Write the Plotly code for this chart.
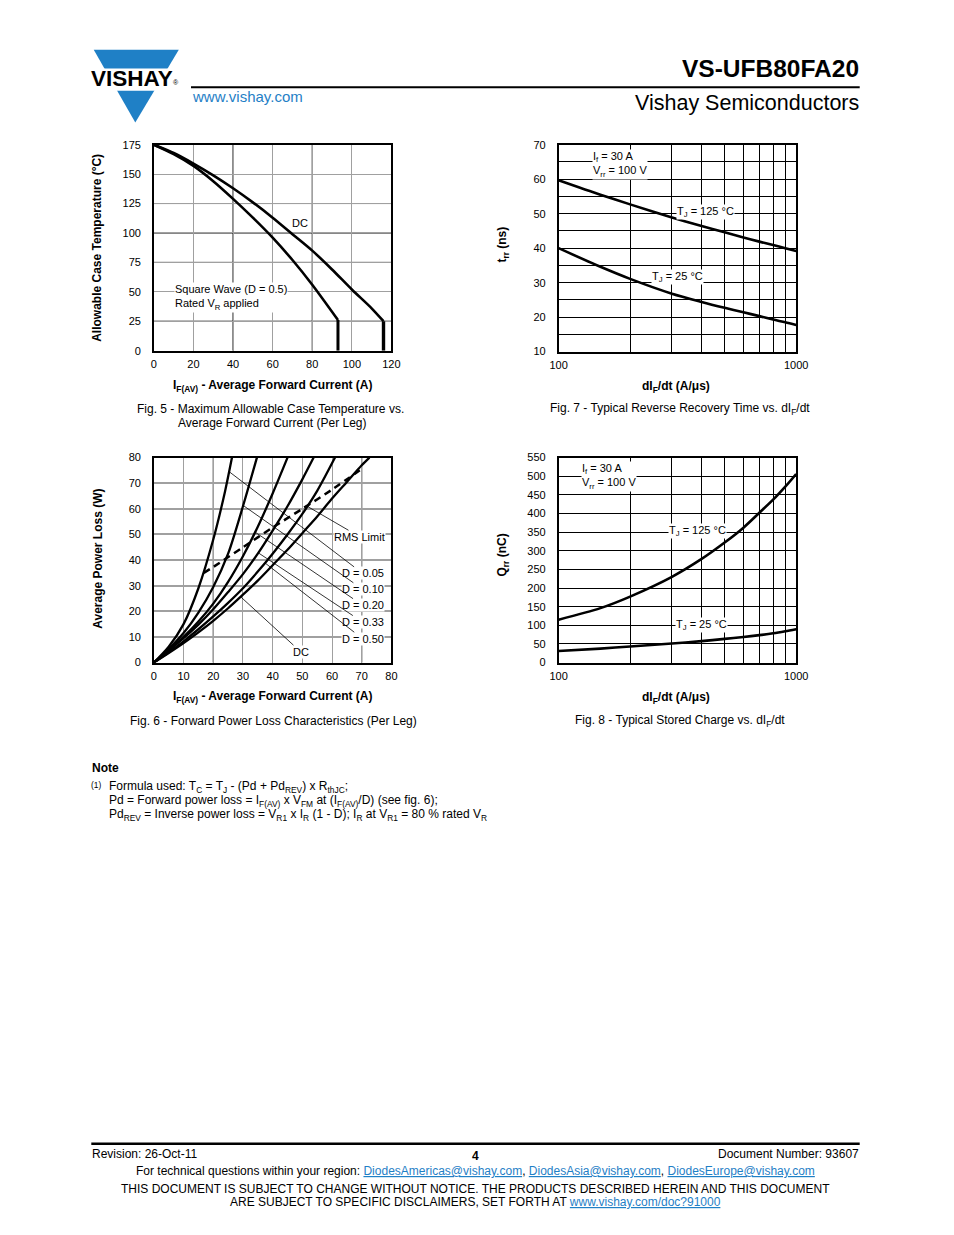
import math
import plotly.graph_objects as go

# The page keeps the browser's 8 px body margin, so the figure is 16 px
# smaller than the 954x1235 window and reference pixels are shifted by 8.
PAGE_W, PAGE_H = 954, 1235
OFF = 8
W, H = PAGE_W - 2 * OFF, PAGE_H - 2 * OFF
FONT = "Liberation Sans, Arial, Helvetica, sans-serif"
BLUE = "#1f80c6"
GREY = "#a0a0a0"

# ---------------- Fig. 5 data ----------------
F5_XTICKS = [0, 20, 40, 60, 80, 100, 120]
F5_YTICKS = [0, 25, 50, 75, 100, 125, 150, 175]
F5_BLACK_X = [40, 80]
F5_BLACK_Y = [25, 75, 100, 125]
F5_DC_X = [0, 10, 20, 30, 40, 50, 60, 70, 80, 90, 100, 110, 116]
F5_DC_Y = [175, 168, 159, 149, 138, 126, 113, 99, 85, 69, 52, 36, 25]
F5_DC_DROP_X = [116, 116]
F5_DC_DROP_Y = [25, 0]
F5_SQ_X = [0, 10, 20, 30, 40, 50, 60, 70, 80, 93]
F5_SQ_Y = [175, 167, 157, 144, 129, 113, 96, 77, 56, 26]
F5_SQ_DROP_X = [93, 93]
F5_SQ_DROP_Y = [26, 0]

# ---------------- Fig. 6 data ----------------
F6_TICKS = [0, 10, 20, 30, 40, 50, 60, 70, 80]
F6_BLACK_X = [20, 70]
F6_D005_X = [0, 5, 10, 15, 20, 24, 26.3]
F6_D005_Y = [0, 6.2, 15, 29, 48, 67, 80]
F6_D010_X = [0, 5, 10, 15, 20, 25, 30, 34.7]
F6_D010_Y = [0, 5.3, 11.5, 19.5, 29.5, 42.5, 61, 80]
F6_D020_X = [0, 5, 10, 15, 20, 25, 30, 35, 40, 45]
F6_D020_Y = [0, 4.8, 10, 16, 23, 31.5, 41.5, 53, 66, 80]
F6_D033_X = [0, 5, 10, 15, 20, 25, 30, 35, 40, 45, 50, 53.8]
F6_D033_Y = [0, 4.6, 9.5, 14.8, 20.8, 27.5, 34.5, 42.5, 51.5, 61, 71.5, 80]
F6_D050_X = [0, 5, 10, 15, 20, 25, 30, 35, 40, 45, 50, 55, 61]
F6_D050_Y = [0, 4, 8.3, 13, 18, 23.3, 29, 35.5, 42.5, 50, 58, 67, 80]
F6_DC_X = [0, 5, 10, 15, 20, 25, 30, 35, 40, 45, 50, 55, 60, 65, 70, 72.6]
F6_DC_Y = [0, 3.7, 7.6, 11.8, 16.3, 21.2, 26.5, 32, 38, 44, 50.5, 57, 64, 70.5, 77, 80]
F6_RMS_X = [16.8, 20, 30, 40, 50, 60, 70.5]
F6_RMS_Y = [35, 37.3, 45, 52.7, 60, 67.5, 76]

# ---------------- Fig. 7 data ----------------
F7_XTICKS = [100, 1000]
F7_XMINOR = [200, 300, 400, 500, 600, 700, 800, 900]
F7_YTICKS = [10, 20, 30, 40, 50, 60, 70]
F7_YMINOR = [15, 25, 35, 45, 55, 65]
F7_X = [100, 150, 200, 300, 400, 500, 600, 700, 800, 900, 1000]
F7_T125 = [59.7, 55.5, 52.7, 48.9, 46.4, 44.6, 43.1, 41.9, 40.9, 40.0, 39.2]
F7_T25 = [40, 34.6, 31.1, 26.8, 24.4, 22.7, 21.4, 20.3, 19.3, 18.5, 17.7]

# ---------------- Fig. 8 data ----------------
F8_XTICKS = [100, 1000]
F8_XMINOR = [200, 300, 400, 500, 600, 700, 800, 900]
F8_YTICKS = [0, 50, 100, 150, 200, 250, 300, 350, 400, 450, 500, 550]
F8_X = [100, 150, 200, 300, 400, 500, 600, 700, 800, 900, 1000]
F8_T125 = [115, 146, 177, 230, 278, 322, 362, 402, 437, 472, 506]
F8_T25 = [31, 37.5, 43, 51, 57.5, 63.5, 68.5, 73.5, 78.5, 84, 89.5]


def PX(x):
    return (x - OFF) / W


def PY(y):
    return 1 - (y - OFF) / H


fig = go.Figure()


def line(x, y, xa, ya, width=2.6, dash="solid", shape="spline"):
    fig.add_trace(go.Scatter(
        x=x, y=y, xaxis=xa, yaxis=ya, mode="lines",
        line=dict(color="black", width=width, dash=dash, shape=shape,
                  smoothing=0.8 if shape == "spline" else None),
        hoverinfo="skip", showlegend=False))


# Fig 5
line(F5_DC_X, F5_DC_Y, "x", "y")
line(F5_DC_DROP_X, F5_DC_DROP_Y, "x", "y", width=3.4, shape="linear")
line(F5_SQ_X, F5_SQ_Y, "x", "y")
line(F5_SQ_DROP_X, F5_SQ_DROP_Y, "x", "y", width=3.0, shape="linear")
# Fig 7
line(F7_X, F7_T125, "x2", "y2")
line(F7_X, F7_T25, "x2", "y2")
# Fig 6
for xs, ys in [(F6_D005_X, F6_D005_Y), (F6_D010_X, F6_D010_Y), (F6_D020_X, F6_D020_Y),
               (F6_D033_X, F6_D033_Y), (F6_D050_X, F6_D050_Y), (F6_DC_X, F6_DC_Y)]:
    line(xs, ys, "x3", "y3", width=2.3)
line(F6_RMS_X, F6_RMS_Y, "x3", "y3", width=2.5, dash="7px,5px")
# Fig 8
line(F8_X, F8_T125, "x4", "y4")
line(F8_X, F8_T25, "x4", "y4")


def axis(domain, rng, tickvals, gridcolor="black", gridwidth=1, anchor=None,
         typ="linear", standoff=2, minor=None):
    d = dict(domain=domain, range=rng, type=typ, tickmode="array", tickvals=tickvals,
             ticktext=[str(v) for v in tickvals], showline=True, mirror=True,
             linecolor="black", linewidth=1.5, zeroline=False, ticks="", showgrid=True,
             gridcolor=gridcolor, gridwidth=gridwidth, fixedrange=True,
             tickfont=dict(family=FONT, size=11, color="black"),
             ticklabelstandoff=standoff)
    if minor is not None:
        d["minor"] = dict(tickmode="array", tickvals=minor, showgrid=True,
                          gridcolor="black", gridwidth=1, ticks="")
    if anchor:
        d["anchor"] = anchor
    return d


L_DOM = [PX(148), PX(391)]
R_DOM = [PX(562), PX(805)]
TOP_DOM5 = [PY(348), PY(140)]
TOP_DOM7 = [PY(349), PY(140)]
BOT_DOM = [PY(663), PY(456)]

fig.update_layout(
    width=W, height=H, autosize=False,
    margin=dict(l=0, r=0, t=0, b=0, pad=0),
    paper_bgcolor="white", plot_bgcolor="white", showlegend=False,
    font=dict(family=FONT, size=12, color="black"),
    xaxis=axis(L_DOM, [0, 120], F5_XTICKS, GREY, 1.3, "y"),
    yaxis=axis(TOP_DOM5, [0, 175], F5_YTICKS, GREY, 1.3, "x", standoff=9),
    xaxis2=axis(R_DOM, [2, 3], F7_XTICKS, "black", 1, "y2", typ="log", minor=F7_XMINOR),
    yaxis2=axis(TOP_DOM7, [10, 70], F7_YTICKS, "black", 1, "x2", standoff=9, minor=F7_YMINOR),
    xaxis3=axis(L_DOM, [0, 80], F6_TICKS, GREY, 1.3, "y3"),
    yaxis3=axis(BOT_DOM, [0, 80], F6_TICKS, GREY, 2, "x3", standoff=9),
    xaxis4=axis(R_DOM, [2, 3], F8_XTICKS, "black", 1, "y4", typ="log", minor=F8_XMINOR),
    yaxis4=axis(BOT_DOM, [0, 550], F8_YTICKS, "black", 1, "x4", standoff=9),
)

shapes = []
for v in F5_BLACK_X:
    shapes.append(dict(type="line", xref="x", yref="y domain", x0=v, x1=v, y0=0, y1=1,
                       line=dict(color="black", width=1), layer="below"))
for v in F5_BLACK_Y:
    shapes.append(dict(type="line", xref="x domain", yref="y", x0=0, x1=1, y0=v, y1=v,
                       line=dict(color="black", width=1), layer="below"))
for v in F6_BLACK_X:
    shapes.append(dict(type="line", xref="x3", yref="y3 domain", x0=v, x1=v, y0=0, y1=1,
                       line=dict(color="black", width=1), layer="below"))

# header / footer rules
shapes.append(dict(type="line", xref="paper", yref="paper", x0=PX(186), x1=PX(870),
                   y0=PY(82), y1=PY(82), line=dict(color="black", width=2)))
shapes.append(dict(type="line", xref="paper", yref="paper", x0=PX(84), x1=PX(870),
                   y0=PY(1149), y1=PY(1149), line=dict(color="black", width=2.5)))
# logo triangle + white band
shapes.append(dict(type="path", xref="paper", yref="paper",
                   path=f"M {PX(86.5)},{PY(44)} L {PX(173.5)},{PY(44)} L {PX(129)},{PY(117.5)} Z",
                   fillcolor=BLUE, line=dict(width=0)))
shapes.append(dict(type="rect", xref="paper", yref="paper", x0=PX(80), x1=PX(180),
                   y0=PY(85.5), y1=PY(63), fillcolor="white", line=dict(width=0)))
fig.update_layout(shapes=shapes)

anns = []


def ann(text, x, y, size=12, bold=False, xanchor="center", yanchor="middle", color="black",
        angle=0, bg=None, xref="paper", yref="paper", align="center"):
    if bold:
        text = f"<b>{text}</b>"
    if xref == "paper":
        x = PX(x)
    if yref == "paper":
        y = PY(y)
    d = dict(text=text, x=x, y=y, xref=xref, yref=yref, showarrow=False, xanchor=xanchor,
             yanchor=yanchor, textangle=angle, align=align, borderpad=0,
             font=dict(family=FONT, size=size, color=color))
    if bg:
        d["bgcolor"] = bg
    anns.append(d)


# header
ann("VISHAY", 126, 73.5, size=22.5, bold=True)
ann("®", 170.5, 77, size=7)
ann("www.vishay.com", 186, 91, size=15, color=BLUE, xanchor="left")
ann("VS-UFB80FA20", 870, 63, size=24.5, bold=True, xanchor="right")
ann("Vishay Semiconductors", 870, 98, size=21.5, xanchor="right")

# axis titles & captions
XT = "I<sub>F(AV)</sub> - Average Forward Current (A)"
DT = "dI<sub>F</sub>/dt (A/μs)"
ann("Allowable Case Temperature (°C)", 90, 244, size=12, bold=True, angle=-90)
ann(XT, 269.5, 384, size=12, bold=True)
ann("Fig. 5 - Maximum Allowable Case Temperature vs.", 130, 407, size=12, xanchor="left")
ann("Average Forward Current (Per Leg)", 172, 421, size=12, xanchor="left")

ann("t<sub>rr</sub> (ns)", 505, 241, size=12, bold=True, angle=-90)
ann(DT, 682, 385, size=12, bold=True)
ann("Fig. 7 - Typical Reverse Recovery Time vs. dI<sub>F</sub>/dt", 686, 407, size=12)

ann("Average Power Loss (W)", 90, 558, size=12, bold=True, angle=-90)
ann(XT, 269.5, 698, size=12, bold=True)
ann("Fig. 6 - Forward Power Loss Characteristics (Per Leg)", 270.5, 722, size=12)

ann("Q<sub>rr</sub> (nC)", 505, 554, size=12, bold=True, angle=-90)
ann(DT, 682, 699, size=12, bold=True)
ann("Fig. 8 - Typical Stored Charge vs. dI<sub>F</sub>/dt", 686, 722, size=12)

# in-plot labels, Fig 5
ann("DC", 73.6, 108.5, size=11, xref="x", yref="y", bg="white")
ann("Square Wave (D = 0.5)<br>Rated V<sub>R</sub> applied", 10.4, 45, size=11, xref="x", yref="y",
    xanchor="left", align="left", bg="white")
# Fig 7
ann("I<sub>f</sub> = 30 A<br>V<sub>rr</sub> = 100 V", math.log10(138), 64.3, size=11, xref="x2", yref="y2",
    xanchor="left", align="left", bg="white")
ann("T<sub>J</sub> = 125 °C", math.log10(414), 50.4, size=11, xref="x2", yref="y2", bg="white")
ann("T<sub>J</sub> = 25 °C", math.log10(318), 31.5, size=11, xref="x2", yref="y2", bg="white")
# Fig 8
ann("I<sub>f</sub> = 30 A<br>V<sub>rr</sub> = 100 V", math.log10(124.3), 500, size=11, xref="x4", yref="y4",
    xanchor="left", align="left", bg="white")
ann("T<sub>J</sub> = 125 °C", math.log10(386), 353, size=11, xref="x4", yref="y4", bg="white")
ann("T<sub>J</sub> = 25 °C", math.log10(401), 101, size=11, xref="x4", yref="y4", bg="white")

# Fig 6 labels with leader lines
F6_LEADERS = [
    ("RMS Limit", 51.2, 61.3, 69.3, 49.1),
    ("D = 0.05", 25.35, 74.5, 70.3, 34.8),
    ("D = 0.10", 30.1, 61.3, 70.3, 28.6),
    ("D = 0.20", 34.1, 50.9, 70.3, 22.4),
    ("D = 0.33", 35.2, 42.8, 70.3, 15.8),
    ("D = 0.50", 37.4, 38.9, 70.3, 9.3),
    ("DC", 29.2, 25.7, 49.4, 4.25),
]
for txt, px_, py_, lx, ly in F6_LEADERS:
    anns.append(dict(text=txt, x=px_, y=py_, xref="x3", yref="y3", axref="x3", ayref="y3",
                     ax=lx, ay=ly, showarrow=True, arrowhead=0, arrowwidth=0.8,
                     arrowcolor="black", standoff=0, startstandoff=0, bgcolor="white",
                     borderpad=0, font=dict(family=FONT, size=11, color="black")))

# note
ann("Note", 84, 770, size=12, bold=True, xanchor="left")
ann("<sup>(1)</sup>", 83, 787, size=12, xanchor="left")
ann("Formula used: T<sub>C</sub> = T<sub>J</sub> - (Pd + Pd<sub>REV</sub>) x R<sub>thJC</sub>;",
    101, 789, size=12, xanchor="left")
ann("Pd = Forward power loss = I<sub>F(AV)</sub> x V<sub>FM</sub> at (I<sub>F(AV)</sub>/D) (see fig. 6);",
    101, 803, size=12, xanchor="left")
ann("Pd<sub>REV</sub> = Inverse power loss = V<sub>R1</sub> x I<sub>R</sub> (1 - D); I<sub>R</sub> at "
    "V<sub>R1</sub> = 80 % rated V<sub>R</sub>", 101, 817, size=12, xanchor="left")

# footer
ann("Revision: 26-Oct-11", 84, 1159, size=12, xanchor="left")
ann("4", 477, 1161, size=12, bold=True)
ann("Document Number: 93607", 870, 1159, size=12, xanchor="right")


def link(t):
    return f"<span style='color:{BLUE}'><u>{t}</u></span>"


ann("For technical questions within your region: " + link("DiodesAmericas@vishay.com") + ", "
    + link("DiodesAsia@vishay.com") + ", " + link("DiodesEurope@vishay.com"), 477, 1177, size=12)
ann("THIS DOCUMENT IS SUBJECT TO CHANGE WITHOUT NOTICE. THE PRODUCTS DESCRIBED HEREIN AND THIS DOCUMENT",
    476.5, 1195, size=12)
ann("ARE SUBJECT TO SPECIFIC DISCLAIMERS, SET FORTH AT " + link("www.vishay.com/doc?91000"),
    477, 1208, size=12)

fig.update_layout(annotations=anns)

fig.write_html("out.html", config={"displayModeBar": False})
